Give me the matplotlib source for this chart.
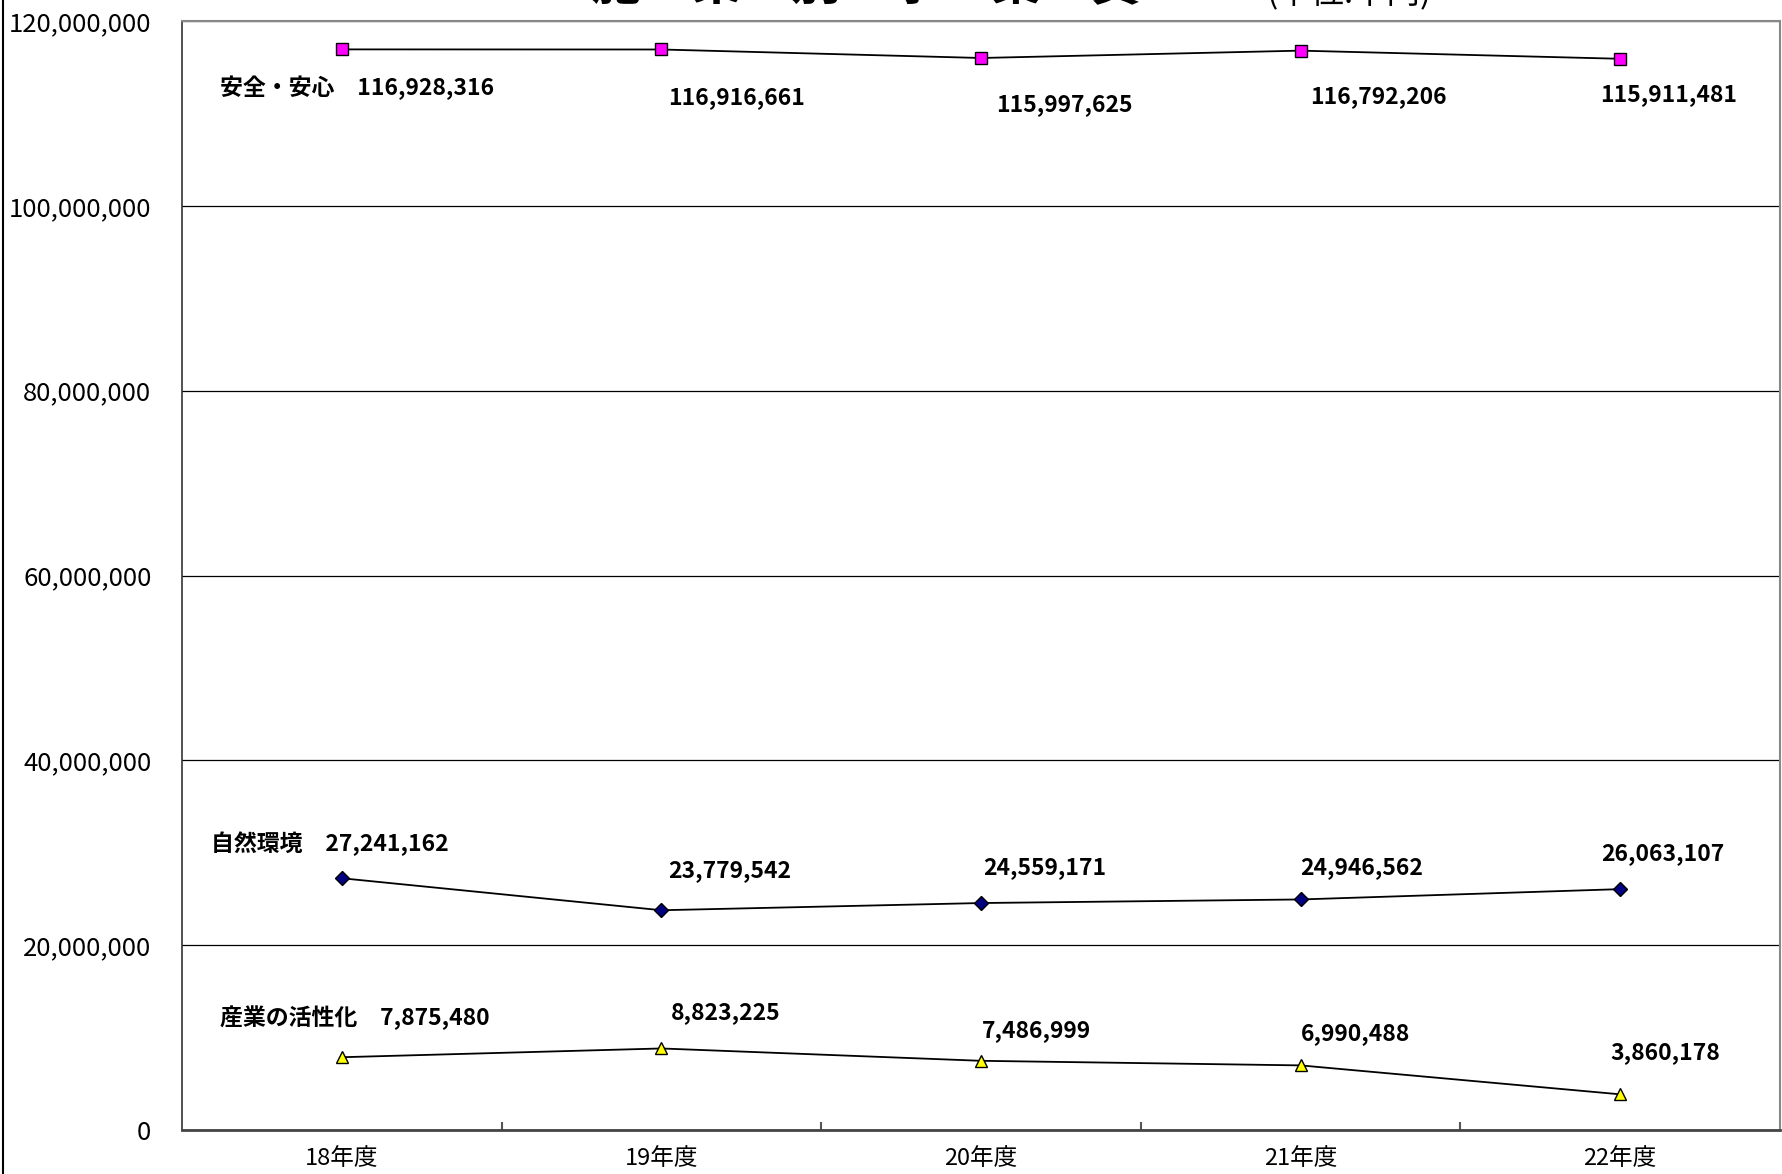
import matplotlib
matplotlib.use("Agg")
import matplotlib.pyplot as plt
from matplotlib.lines import Line2D
from matplotlib.ticker import FuncFormatter, FixedLocator

plt.rcParams['font.family'] = ['Noto Sans CJK JP', 'DejaVu Sans']

# data (単位:千円)
years = ['18年度', '19年度', '20年度', '21年度', '22年度']
names = ['安全・安心', '自然環境', '産業の活性化']
anzen = [116928316, 116916661, 115997625, 116792206, 115911481]
shizen = [27241162, 23779542, 24559171, 24946562, 26063107]
sangyo = [7875480, 8823225, 7486999, 6990488, 3860178]

# label offsets from each point, in pixels (layout only)
offs_anzen = [(-122, -38), (7, -48), (15, -47), (10, -46), (-20, -36)]
offs_shizen = [(-131, 35), (7, 40), (2, 35), (0, 32), (-19, 36)]
offs_sangyo = [(-122, 40), (9, 36), (1, 30), (0, 32), (-10, 42)]

series = [
    (anzen, 's', '#FF00FF', offs_anzen),
    (shizen, 'D', '#000080', offs_shizen),
    (sangyo, '^', '#FFFF00', offs_sangyo),
]

fig = plt.figure(figsize=(17.82, 11.74), dpi=100)
ax = fig.add_axes([182/1782, 44/1174, 1598/1782, 1109/1174])

x = list(range(len(years)))
for (vals, mk, col, offs), nm in zip(series, names):
    ms = 8 if mk != 'D' else 7
    ax.plot(x, vals, color='black', lw=1.3, marker=mk, ms=ms,
            markerfacecolor=col, markeredgecolor='black', markeredgewidth=1.0,
            zorder=3, clip_on=False)
    for i, v in enumerate(vals):
        txt = f"{v:,}"
        if i == 0:
            txt = nm + '\u3000' + txt
        ax.annotate(txt, (i, v), xytext=offs[i], textcoords='offset pixels',
                    ha='left', va='center', fontsize=16.5, fontweight='bold')

ax.set_xlim(-0.5, 4.5)
ax.set_ylim(0, 120000000)
ax.yaxis.set_major_locator(FixedLocator(range(0, 120000001, 20000000)))
ax.yaxis.set_major_formatter(FuncFormatter(lambda v, p: f"{int(v):,}"))
ax.grid(axis='y', color='black', lw=0.9)
ax.set_axisbelow(True)
ax.tick_params(axis='y', length=0, pad=22, labelsize=18.5)

# category boundaries as ticks, names centred
ax.set_xticks([0.5, 1.5, 2.5, 3.5])
ax.set_xticklabels([])
ax.set_xticks(x, minor=True)
ax.set_xticklabels(years, minor=True)
ax.tick_params(axis='x', which='major', direction='in', length=6, width=1.5, color='#555555')
ax.tick_params(axis='x', which='minor', length=0, pad=12, labelsize=17)

for s in ['top', 'right']:
    ax.spines[s].set_color('#888888')
    ax.spines[s].set_linewidth(1.5)
ax.spines['left'].set_color('#333333')
ax.spines['left'].set_linewidth(1.2)
ax.spines['bottom'].set_color('#444444')
ax.spines['bottom'].set_linewidth(2)

# title, mostly cut off by the top edge (as in the source image)
fig.text(591/1782, 1.0, '施　策　別　事　業　費', ha='left', va='baseline',
         fontsize=36, fontweight='bold')
fig.text(1267/1782, 1 - 2/1174, '(単位:千円)', ha='left', va='baseline',
         fontsize=24)

# left border of the chart area
fig.add_artist(Line2D([2.5/1782, 2.5/1782], [0, 1], color='black', lw=1.5))

fig.savefig('out.png', dpi=100)
